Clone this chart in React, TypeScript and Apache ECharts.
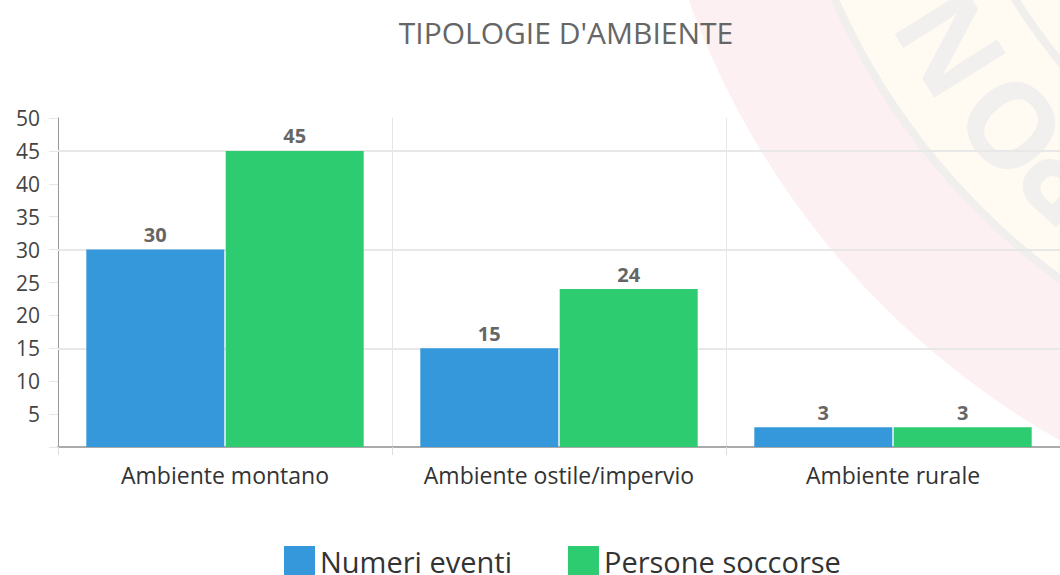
import React, { useEffect, useRef } from "react";
import * as echarts from "echarts";

const categories = ["Ambiente montano", "Ambiente ostile/impervio", "Ambiente rurale"];
const numeriEventi = [30, 15, 3];
const personeSoccorse = [45, 24, 3];
const gridValues = [15, 30, 45];
const sealLetters = ["C", "O", "R", "P", "O", "N", "A", "Z"];
const sealAngles = [110.4, 117.4, 124.4, 131.4, 138.4, 148, 156, 163];

const FONT = "'Open Sans', 'Noto Sans', sans-serif";

function buildWatermark() {
  const cx = 1468;
  const cy = -280;
  const els: any[] = [
    { type: "circle", z: -10, shape: { cx, cy, r: 828 }, style: { fill: "#fcf0f2" }, silent: true },
    { type: "circle", z: -10, shape: { cx, cy, r: 692 }, style: { fill: "#fffbf2", stroke: "#f1efed", lineWidth: 8 }, silent: true },
    { type: "circle", z: -10, shape: { cx, cy, r: 532 }, style: { fill: "#fffbf2", stroke: "#f1efed", lineWidth: 8 }, silent: true },
  ];
  sealLetters.forEach((ch, i) => {
    const theta = sealAngles[i];
    const t = (theta * Math.PI) / 180;
    const r = 614;
    els.push({
      type: "text",
      z: -9,
      silent: true,
      x: cx + r * Math.cos(t),
      y: cy + r * Math.sin(t),
      rotation: ((270 - theta) * Math.PI) / 180,
      style: {
        text: ch,
        fill: "#f1f0ee",
        font: `bold 118px ${FONT}`,
        align: "center",
        verticalAlign: "middle",
      },
    });
  });
  return els;
}

export default function App() {
  const ref = useRef<HTMLDivElement>(null);
  useEffect(() => {
    if (!ref.current) return;
    const chart = echarts.init(ref.current, undefined, { renderer: "svg" });
    chart.setOption({
      animation: false,
      backgroundColor: "#ffffff",
      title: {
        text: "TIPOLOGIE D'AMBIENTE",
        left: 561,
        textAlign: "center",
        top: 12,
        textStyle: { fontFamily: FONT, fontSize: 30, fontWeight: "normal", color: "#666666" },
      },
      legend: {
        left: 279,
        top: 541,
        itemWidth: 31,
        itemHeight: 31,
        itemGap: 56,
        icon: "rect",
        textStyle: { fontFamily: FONT, fontSize: 29, color: "#333333" },
        data: ["Numeri eventi", "Persone soccorse"],
      },
      grid: { left: 58, right: 0, top: 118, bottom: 128, containLabel: false },
      graphic: buildWatermark(),
      xAxis: {
        type: "category",
        data: categories,
        axisLine: { show: true, lineStyle: { color: "#aaaaaa", width: 2 } },
        axisTick: { show: true, length: 8, lineStyle: { color: "#dddddd" } },
        splitLine: { show: true, lineStyle: { color: "#e6e6e6" } },
        axisLabel: {
          fontFamily: FONT,
          fontSize: 23,
          color: "#333333",
          margin: 16,
          interval: 0,
          hideOverlap: false,
        },
      },
      yAxis: {
        type: "value",
        min: 0,
        max: 50,
        interval: 5,
        axisLine: { show: true, lineStyle: { color: "#999999" } },
        axisTick: { show: true, length: 9, lineStyle: { color: "#e6e6e6" } },
        splitLine: { show: false },
        axisLabel: {
          fontFamily: FONT,
          fontSize: 21,
          color: "#444444",
          margin: 18,
          formatter: (v: number) => (v === 0 ? "" : String(v)),
        },
      },
      series: [
        {
          name: "Numeri eventi",
          type: "bar",
          data: numeriEventi,
          barWidth: 138,
          barGap: "1%",
          itemStyle: { color: "#3498db" },
          label: {
            show: true,
            position: "top",
            distance: 5,
            fontFamily: FONT,
            fontSize: 20,
            fontWeight: "bold",
            color: "#666666",
          },
          markLine: {
            silent: true,
            symbol: "none",
            label: { show: false },
            lineStyle: { color: "#e8e8e8", type: "solid", width: 2 },
            data: gridValues.map((v) => ({ yAxis: v })),
            z: 1,
          },
        },
        {
          name: "Persone soccorse",
          type: "bar",
          data: personeSoccorse,
          barWidth: 138,
          barGap: "1%",
          itemStyle: { color: "#2ecc71" },
          label: {
            show: true,
            position: "top",
            distance: 5,
            fontFamily: FONT,
            fontSize: 20,
            fontWeight: "bold",
            color: "#666666",
          },
        },
      ],
    });
    return () => chart.dispose();
  }, []);
  return (
    <div
      ref={ref}
      style={{ position: "absolute", left: 0, top: 0, width: 1060, height: 575 }}
    />
  );
}
